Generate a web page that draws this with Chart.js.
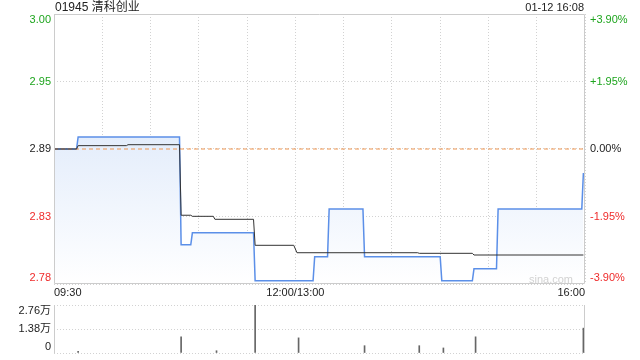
<!DOCTYPE html>
<html>
<head>
<meta charset="utf-8">
<script src="https://cdn.jsdelivr.net/npm/chart.js@4.4.1/dist/chart.umd.min.js"></script>
<style>
  body { margin: 0; background: #fff; }
  #wrap { position: relative; width: 640px; height: 360px; font-family: "Liberation Sans", "Noto Sans CJK SC", sans-serif; }
  .txt { position: absolute; white-space: nowrap; line-height: 12px; }
  #title { left: 55px; top: 1px; font-size: 12px; color: #222; }
  #stamp { right: 56px; top: 1px; font-size: 11px; color: #222; }
  #mark { right: 67px; top: 273px; font-size: 11px; color: #d2d2d2; }
  canvas { position: absolute; left: 0; }
  #main { top: 0; }
  #vol { top: 300px; }
</style>
</head>
<body>
<div id="wrap">
  <canvas id="main" width="640" height="300"></canvas>
  <canvas id="vol" width="640" height="60"></canvas>
  <div class="txt" id="title">01945 清科创业</div>
  <div class="txt" id="stamp">01-12 16:08</div>
  <div class="txt" id="mark">sina.com</div>
</div>
<script>
// datos (minutos desde las 09:30, sin la pausa del mediodia)
const prevClose = 2.89
const pctTicks = [-3.90, -1.95, 0, 1.95, 3.90]
const priceLabels = ['2.78', '2.83', '2.89', '2.95', '3.00']
const pctLabels = ['-3.90%', '-1.95%', '0.00%', '+1.95%', '+3.90%']
const timeTicks = [0, 150, 330]
const timeLabels = ['09:30', '12:00/13:00', '16:00']

const priceMinutes = [0, 14, 15, 78, 79, 85, 86, 124, 125, 161, 162, 170, 171, 192, 193, 240, 241, 260, 261, 275, 276, 328, 329]
const priceValues = [2.89, 2.89, 2.90, 2.90, 2.81, 2.81, 2.82, 2.82, 2.78, 2.78, 2.80, 2.80, 2.84, 2.84, 2.80, 2.80, 2.78, 2.78, 2.79, 2.79, 2.84, 2.84, 2.87]

const avgMinutes = [0, 14, 15, 45, 46, 78, 79, 85, 86, 99, 100, 124, 125, 149, 151, 226, 227, 260, 261, 329]
const avgValues = [2.890, 2.890, 2.8928, 2.8928, 2.8936, 2.8936, 2.8347, 2.8347, 2.8338, 2.8338, 2.8313, 2.8313, 2.8096, 2.8096, 2.8034, 2.8034, 2.8029, 2.8029, 2.8015, 2.8015]

const volMinutes = [15, 79, 101, 125, 152, 193, 227, 242, 262, 329]
const volValues = [1000, 9300, 1300, 27600, 8700, 4200, 4200, 2900, 9300, 14300]
const volTicks = [0, 13800, 27600]
const volLabels = ['0', '1.38万', '2.76万']

const green = '#1ea51e'
const red = '#ef2b2b'
const dark = '#222'
const gridColor = '#d2d2d2'
const font = { family: '"Liberation Sans", "Noto Sans CJK SC", sans-serif', size: 11, lineHeight: 1.1 }

const toXY = (xs, ys) => xs.map((x, i) => ({ x: x, y: ys[i] }))
// la etiqueta de arriba va debajo de su linea y la de abajo encima
const edgeLabel = (text, i, n) => i === n - 1 ? ['', text] : i === 0 ? [text, ''] : text
const tickColor = ctx => pctTicks[ctx.index] > 0 ? green : pctTicks[ctx.index] < 0 ? red : dark
// ancho fijo de los ejes y sin relleno extra por las etiquetas
const fixWidth = w => s => { s.width = w; s.paddingTop = 0; s.paddingBottom = 0 }

const yMin = prevClose * (1 + pctTicks[0] / 100)
const yMax = prevClose * (1 + pctTicks[pctTicks.length - 1] / 100)
const pctTickValues = s => { s.ticks = pctTicks.map(p => ({ value: prevClose * (1 + p / 100) })) }

const frame = {
  id: 'frame',
  afterDraw(chart, args, opts) {
    const { ctx, chartArea: a } = chart
    ctx.save()
    ctx.strokeStyle = '#cccccc'
    ctx.lineWidth = 1
    ctx.beginPath()
    if (opts.sidesOnly) {
      ctx.moveTo(a.left + 0.5, a.top); ctx.lineTo(a.left + 0.5, a.bottom)
      ctx.moveTo(a.right - 0.5, a.top); ctx.lineTo(a.right - 0.5, a.bottom)
    } else {
      ctx.rect(a.left + 0.5, a.top + 0.5, a.right - a.left - 1, a.bottom - a.top - 1)
    }
    ctx.stroke()
    ctx.restore()
  }
}

const priceFill = ctx => {
  const a = ctx.chart.chartArea
  if (!a) return 'rgba(205,222,248,0.5)'
  const g = ctx.chart.ctx.createLinearGradient(0, a.top, 0, a.bottom)
  g.addColorStop(0, 'rgb(205,222,248)')
  g.addColorStop(1, 'rgb(255,255,255)')
  return g
}

const mainChart = new Chart(document.getElementById('main'), {
  type: 'line',
  data: {
    datasets: [
      { label: 'avg', data: toXY(avgMinutes, avgValues), borderColor: '#333', borderWidth: 1, fill: false, order: 0 },
      { label: 'prev', data: toXY([0, 330], [prevClose, prevClose]), borderColor: '#ee9550', borderWidth: 1, borderDash: [4, 3], fill: false, order: 1 },
      { label: 'price', data: toXY(priceMinutes, priceValues), borderColor: '#5b8fe8', borderWidth: 1.5, fill: 'start', backgroundColor: priceFill, order: 2 }
    ]
  },
  options: {
    responsive: false,
    animation: false,
    devicePixelRatio: 1,
    layout: { padding: { top: 14 } },
    elements: { point: { radius: 0 }, line: { tension: 0 } },
    plugins: { legend: { display: false }, tooltip: { enabled: false }, frame: {} },
    scales: {
      x: {
        type: 'linear', min: 0, max: 330,
        afterFit: s => { s.height = 16; s.paddingLeft = 0; s.paddingRight = 0 },
        grid: { color: gridColor, drawTicks: false },
        border: { display: false, dash: [1, 2] },
        ticks: {
          stepSize: 30, autoSkip: false, maxRotation: 0, align: 'inner', padding: 3, color: dark, font,
          callback: v => { const i = timeTicks.indexOf(v); return i >= 0 ? timeLabels[i] : '' }
        }
      },
      y: {
        min: yMin, max: yMax,
        afterBuildTicks: pctTickValues,
        afterFit: fixWidth(54),
        grid: { color: gridColor, drawTicks: false },
        border: { display: false, dash: [1, 2] },
        ticks: { autoSkip: false, padding: 3, color: tickColor, font, callback: (v, i) => edgeLabel(priceLabels[i], i, priceLabels.length) }
      },
      y2: {
        position: 'right', min: yMin, max: yMax,
        afterBuildTicks: pctTickValues,
        afterFit: fixWidth(55),
        grid: { display: false, drawTicks: false },
        border: { display: false },
        ticks: { autoSkip: false, padding: 5, color: tickColor, font, callback: (v, i) => edgeLabel(pctLabels[i], i, pctLabels.length) }
      }
    }
  },
  plugins: [frame]
})

const volChart = new Chart(document.getElementById('vol'), {
  type: 'bar',
  data: {
    datasets: [{ data: toXY(volMinutes, volValues), backgroundColor: '#666', barThickness: 1 }]
  },
  options: {
    responsive: false,
    animation: false,
    devicePixelRatio: 1,
    layout: { padding: { top: 5, right: 55, bottom: 7 } },
    plugins: { legend: { display: false }, tooltip: { enabled: false }, frame: { sidesOnly: true } },
    scales: {
      x: { type: 'linear', min: 0, max: 330, offset: false, display: false },
      y: {
        min: 0, max: 27600,
        afterBuildTicks: s => { s.ticks = volTicks.map(v => ({ value: v })) },
        afterFit: fixWidth(54),
        grid: { color: gridColor, drawTicks: false },
        border: { display: false, dash: [1, 2] },
        ticks: { autoSkip: false, padding: 3, color: dark, font, callback: (v, i) => edgeLabel(volLabels[i], i, volLabels.length) }
      }
    }
  },
  plugins: [frame]
})
</script>
</body>
</html>
